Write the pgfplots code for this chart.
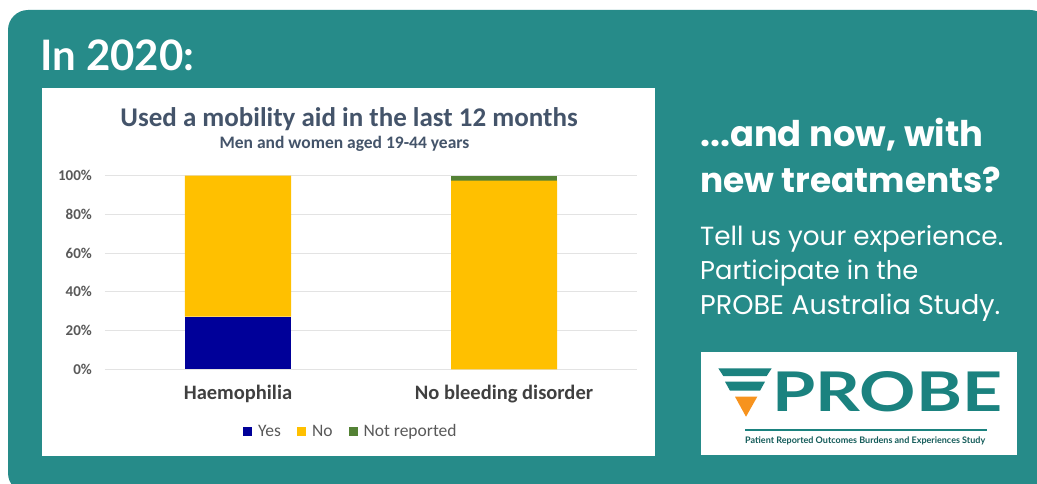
\documentclass[border=0pt]{standalone}
\usepackage{pgfplots}
\pgfplotsset{compat=1.18}
\usepackage{fontspec}
\setmainfont{Carlito}
\newfontfamily\latofont{Lato}
\newfontfamily\popfont{Poppins}
\definecolor{bgteal}{HTML}{268B89}
\definecolor{logoteal}{HTML}{1B827F}
\definecolor{yesc}{HTML}{000099}
\definecolor{noc}{HTML}{FFC000}
\definecolor{nrc}{HTML}{548235}
\definecolor{titlec}{HTML}{44546A}
\definecolor{tickc}{HTML}{595959}
\definecolor{catc}{HTML}{404040}
\definecolor{gridc}{HTML}{E3E3E3}
\definecolor{orangec}{HTML}{F7931E}
\pgfplotsset{sqlegend/.style={legend image code/.code={\fill[##1] (0pt,-4.5pt) rectangle (9pt,4.5pt);}}}
\begin{document}
\begin{tikzpicture}[x=1pt,y=1pt]
\fill[white] (0,0) rectangle (1037,483);
\fill[bgteal, rounded corners=20pt] (8,-10) rectangle (1050,473);
\fill[white] (42,27) rectangle (655,395);
\node[anchor=base west, inner sep=0pt, text=white, font=\latofont\bfseries\fontsize{42}{48}\selectfont] at (40,412) {In 2020:};
\node[anchor=base, inner sep=0pt, text=titlec, font=\bfseries\fontsize{27}{30}\selectfont] at (349,356.5) {Used a mobility aid in the last 12 months};
\node[anchor=base, inner sep=0pt, text=titlec, font=\bfseries\fontsize{17.5}{20}\selectfont] at (344.5,334.5) {Men and women aged 19-44 years};
\begin{axis}[
  at={(105pt,113.7pt)}, anchor=south west,
  scale only axis, width=532pt, height=193.6pt,
  ybar stacked, bar width=106pt,
  xmin=-0.5, xmax=1.5, ymin=0, ymax=100,
  xtick={0,1}, xticklabels={Haemophilia,No bleeding disorder},
  ytick={0,20,40,60,80,100},
  /pgf/number format/assume math mode=true,
  yticklabel={\pgfmathprintnumber{\tick}\%},
  ymajorgrids, grid style={draw=gridc, line width=0.9pt},
  axis line style={draw=none}, major tick length=0pt,
  tick label style={inner sep=0pt},
  yticklabel style={anchor=east, xshift=-13pt, font=\bfseries\fontsize{15}{18}\selectfont, text=tickc},
  xticklabel style={anchor=base, yshift=-29.7pt, font=\bfseries\fontsize{20.5}{23}\selectfont, text=catc},
  legend columns=3,
  legend style={at={(0.2594,-0.321)}, anchor=west, draw=none, fill=none, inner sep=0pt,
    font=\fontsize{17.5}{20}\selectfont, text=tickc, nodes={inner sep=0pt},
    /tikz/every odd column/.append style={column sep=6pt},
    /tikz/every even column/.append style={column sep=16pt}},
]
\addplot[fill=yesc, draw=none, sqlegend] coordinates {(0,27.2) (1,0)};
\addplot[fill=noc, draw=none, sqlegend] coordinates {(0,72.8) (1,97.4)};
\addplot[fill=nrc, draw=none, sqlegend] coordinates {(0,0) (1,2.6)};
\legend{Yes,No,Not reported}
\end{axis}
% right-hand text
\node[anchor=base west, inner sep=0pt, text=white] at (700,337) {\resizebox{283pt}{!}{\popfont\bfseries ...and now, with}};
\node[anchor=base west, inner sep=0pt, text=white] at (700,291) {\resizebox{301pt}{!}{\popfont\bfseries new treatments?}};
\node[anchor=base west, inner sep=0pt, text=white] at (700,238) {\resizebox{303pt}{!}{\popfont Tell us your experience.}};
\node[anchor=base west, inner sep=0pt, text=white] at (700,203.5) {\resizebox{218pt}{!}{\popfont Participate in the}};
\node[anchor=base west, inner sep=0pt, text=white] at (700,169) {\resizebox{300pt}{!}{\popfont PROBE Australia Study.}};
% logo
\fill[white] (701,131) rectangle (1017,28);
\fill[logoteal] (718.3,114.7) -- (771.7,114.7) -- (766.7,107) -- (723.3,107) -- cycle;
\fill[logoteal] (725,101.3) -- (765,101.3) -- (760,92.3) -- (730,92.3) -- cycle;
\fill[orangec] (735,86.3) -- (757.3,86.3) -- (746,66.3) -- cycle;
\node[anchor=base west, inner sep=0pt, text=logoteal, font=\latofont\bfseries\fontsize{50}{56}\selectfont] at (772,71.3) {\resizebox{230pt}{40pt}{PROBE}};
\draw[logoteal, line width=2pt] (745,53) -- (987,53);
\node[anchor=base west, inner sep=0pt, text=logoteal!70!black, font=\latofont\bfseries\fontsize{8}{9}\selectfont] at (745,40) {\resizebox{240pt}{!}{Patient Reported Outcomes Burdens and Experiences Study}};
\pgfresetboundingbox
\path[use as bounding box] (0,0) rectangle (1037,483);
\end{tikzpicture}
\end{document}
